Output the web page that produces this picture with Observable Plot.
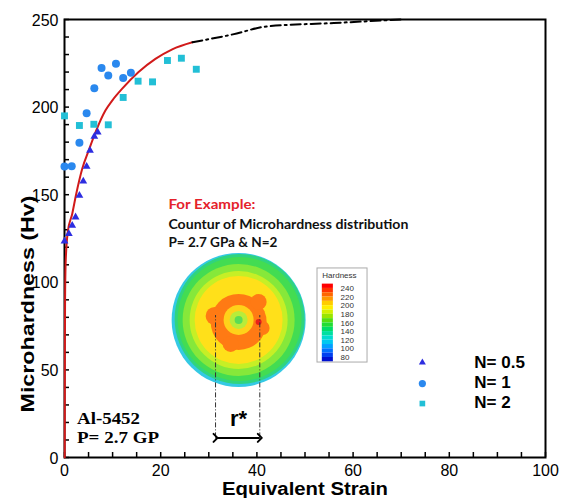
<!DOCTYPE html>
<html><head><meta charset="utf-8">
<script src="https://cdn.jsdelivr.net/npm/d3@7"></script>
<script src="https://cdn.jsdelivr.net/npm/@observablehq/plot@0.6"></script>
<style>body{margin:0;background:#fff;}#chart{width:561px;height:498px;}</style>
</head><body><div id="chart"></div>
<script>
// ---- data ----
const strainN05 = [0, 0.9, 1.6, 2.3, 3.1, 3.9, 4.6, 5.3, 6.2, 6.9];
const hvN05     = [123.5, 127.7, 132.4, 137.2, 149.5, 157.7, 166.1, 175.2, 183.2, 185.7];
const strainN1  = [0, 1.5, 3.1, 4.6, 6.2, 7.7, 9.1, 10.7, 12.2, 13.8];
const hvN1      = [166.1, 166.3, 179.6, 196.5, 210.7, 222.3, 218.0, 224.8, 216.6, 219.6];
const strainN2  = [0, 3.1, 6.1, 9.1, 12.2, 15.3, 18.3, 21.4, 24.3, 27.4];
const hvN2      = [195.0, 189.5, 190.2, 189.9, 205.5, 214.8, 214.4, 226.6, 227.9, 221.6];
const fitStrain = [0.05, 0.08, 0.12, 0.25, 0.7, 1.6, 2.4, 3.7, 5, 6.5, 8.5, 10, 12, 15.4, 18.9, 22.4, 26.6];
const fitHv     = [0, 60, 90, 112, 129, 139, 150, 165, 175, 186, 198, 204, 210.5, 220, 227.5, 233, 237];
const extStrain = [26.6, 35, 42, 56, 70];
const extHv     = [237, 241.5, 246, 248, 250];
const seriesNames = ["N= 0.5", "N= 1", "N= 2"];
const xTickLabels = [0, 20, 40, 60, 80, 100];
const yTickLabels = [0, 50, 100, 150, 200, 250];
const xMinorTicks = d3.range(0, 101, 5);
const yMinorTicks = d3.range(0, 251, 10);
// inset contour disk (image approximation): blob radius, colour, pixel offset from disk centre
const diskR      = [67, 65, 62, 56, 49, 44, 28, 9, 8, 8, 7, 15, 9, 4, 3];
const diskColors = ["#34c9e4", "#30d47e", "#43dc52", "#86e83a", "#c6ef26", "#ffe01a", "#ff7a14", "#ff7a14", "#ff7a14", "#ff7a14", "#ff7a14", "#ffd21a", "#b8ec3a", "#5bdc55", "#e8201a"];
const diskDx     = [0, 1, 1, 0, 0, 0, 0, -24, 20, -8, 24, 0, 0, 0, 20];
const diskDy     = [0, -1, -1, 0, 0, 0, 2, -4, -18, 24, 8, 0, 0, 0, 2];
const cbLabels   = [240, 220, 200, 180, 160, 140, 120, 100, 80];
const cbBandTops = [250, 240, 230, 220, 210, 200, 190, 180, 170, 160, 150, 140, 130, 120, 110, 100, 90, 80];
const cbColors   = ["#ff0000", "#ff3300", "#ff6600", "#ff9900", "#ffcc00", "#ffee00", "#d4f000", "#99e600", "#55dd11",
                    "#22dd33", "#00dd66", "#00e0a0", "#00dcd0", "#00c8f0", "#00a0ff", "#0070ff", "#0040f0", "#0010d0"];

// ---- layout helpers (inset placement in data units) ----
const disk = {x: 36.2, y: 78.5};
const pxX = 100 / 481, pxY = 250 / 438;          // data units per pixel
const cbY = d3.scaleLinear([240, 80], [96.5, 57.1]);
const legendX = 74.4, legendTextX = 85.2, legendY = [54.2, 42.2, 30.8], legendTextY = [51, 39.5, 28.1];

const pts = (xs, ys) => xs.map((x, i) => ({x, y: ys[i]}));
const sans = "Liberation Sans, Arial, sans-serif";

const chart = Plot.plot({
  width: 561, height: 498,
  marginLeft: 64, marginRight: 16, marginTop: 19, marginBottom: 41,
  x: {domain: [0, 100], label: null},
  y: {domain: [0, 250], label: null},
  r: {type: "identity"},
  color: {type: "identity"},
  style: {fontFamily: sans, fontSize: "16px", color: "#000", background: "#fff", overflow: "visible"},
  marks: [
    // inset: contour disk
    Plot.dot(diskR.map((r, i) => ({r, c: diskColors[i], x: disk.x + diskDx[i] * pxX, y: disk.y - diskDy[i] * pxY})),
      {x: "x", y: "y", r: "r", fill: "c"}),
    // inset: colour bar
    Plot.rect([0], {x1: 52.6, x2: 63.0, y1: 54.2, y2: 107.9, fill: "white", stroke: "#aaa", strokeWidth: 1}),
    Plot.rect(cbBandTops.map((v, i) => ({v, c: cbColors[i]})), {x1: 53.6, x2: 55.9, y1: d => cbY(d.v), y2: d => cbY(d.v - 10), fill: "c"}),
    Plot.text(cbLabels, {x: 57.4, y: d => cbY(d), text: d => String(d), textAnchor: "start", fontSize: 8, fill: "#333"}),
    Plot.text(["Hardness"], {x: 53.6, y: 103.9, textAnchor: "start", fontSize: 8, fill: "#333"}),
    // inset captions
    Plot.text(["For Example:"], {x: 21.6, y: 142.1, textAnchor: "start", lineAnchor: "bottom", fontFamily: "Lato", fontWeight: "bold", fontSize: 14, fill: "#e5222b"}),
    Plot.text(["Countur of Microhardness distribution"], {x: 21.6, y: 130.7, textAnchor: "start", lineAnchor: "bottom", fontFamily: "Lato", fontWeight: "bold", fontSize: 13.5, fill: "#111"}),
    Plot.text(["P= 2.7 GPa & N=2"], {x: 21.6, y: 120.4, textAnchor: "start", lineAnchor: "bottom", fontFamily: "Lato", fontWeight: "bold", fontSize: 13.5, fill: "#111"}),
    // r* marker
    Plot.ruleX([31.4, 40.6], {x: d => d, y1: 11.2, y2: 81, stroke: "#333", strokeWidth: 1, strokeDasharray: "5,2,1,2"}),
    Plot.link([0], {x1: 31.4, x2: 40.6, y1: 11.2, y2: 11.2, stroke: "#000", strokeWidth: 2, markerStart: "arrow", markerEnd: "arrow"}),
    Plot.text(["r*"], {x: 36.2, y: 18, textAnchor: "middle", lineAnchor: "bottom", fontWeight: "bold", fontSize: 22}),
    // bottom-left note
    Plot.text(["Al-5452"], {x: 2.6, y: 18.9, textAnchor: "start", lineAnchor: "bottom", fontFamily: "Liberation Serif, Times New Roman, serif", fontWeight: "bold", fontSize: 17}),
    Plot.text(["P= 2.7 GP"], {x: 2.6, y: 8.2, textAnchor: "start", lineAnchor: "bottom", fontFamily: "Liberation Serif, Times New Roman, serif", fontWeight: "bold", fontSize: 17}),
    // axes
    Plot.axisX({ticks: xMinorTicks, tickSize: -5, fill: "none", label: null, strokeWidth: 1.5}),
    Plot.axisY({ticks: yMinorTicks, tickSize: -5, fill: "none", label: null, strokeWidth: 1.5}),
    Plot.axisX({ticks: xTickLabels, tickSize: 0, tickPadding: 7, label: null, fontSize: 16}),
    Plot.axisY({ticks: yTickLabels, tickSize: 0, tickPadding: 6, label: null, fontSize: 16, dy: 1}),
    Plot.frame({stroke: "#000", strokeWidth: 2}),
    Plot.text(["Equivalent Strain"], {frameAnchor: "bottom", dy: 37, lineAnchor: "bottom", fontWeight: "bold", fontSize: 18}),
    Plot.text(["Microhardness (Hv)"], {frameAnchor: "left", y: 25.7, dx: -37, rotate: -90, textAnchor: "start", fontWeight: "bold", fontSize: 19}),
    // curves
    Plot.line(pts(fitStrain, fitHv), {x: "x", y: "y", stroke: "#d11a1a", strokeWidth: 2, curve: "monotone-x"}),
    Plot.line(pts(extStrain, extHv), {x: "x", y: "y", stroke: "#000", strokeWidth: 2, strokeDasharray: "10,4,2,4", curve: "monotone-x"}),
    // data points
    Plot.dot(pts(strainN2, hvN2), {x: "x", y: "y", symbol: "square", r: 3.9, fill: "#22bfd6"}),
    Plot.dot(pts(strainN1, hvN1), {x: "x", y: "y", symbol: "circle", r: 4, fill: "#2a88ee"}),
    Plot.dot(pts(strainN05, hvN05), {x: "x", y: "y", symbol: "triangle", r: 2.9, fill: "#2d2de0"}),
    // legend
    Plot.dot(seriesNames.map((s, i) => ({s, i})), {x: legendX, y: d => legendY[d.i], symbol: d => ["triangle", "circle", "square"][d.i], r: d => [2.6, 3.6, 3.2][d.i], fill: d => ["#2d2de0", "#2a88ee", "#22bfd6"][d.i]}),
    Plot.text(seriesNames.map((s, i) => ({s, i})), {x: legendTextX, y: d => legendTextY[d.i], text: "s", textAnchor: "start", lineAnchor: "bottom", fontWeight: "bold", fontSize: 17})
  ]
});

// fit a few label widths to the reference
const widths = {
  "For Example:": 87, "Countur of Microhardness distribution": 240, "P= 2.7 GPa & N=2": 109,
  "Al-5452": 63, "P= 2.7 GP": 82, "Equivalent Strain": 166, "Microhardness (Hv)": 217
};
d3.select(chart).selectAll("text").each(function() {
  const t = this.textContent;
  if (widths[t] && !this.querySelector("tspan")) {
    this.setAttribute("textLength", widths[t]);
    this.setAttribute("lengthAdjust", "spacingAndGlyphs");
  }
});
document.getElementById("chart").appendChild(chart);
</script>
</body></html>
